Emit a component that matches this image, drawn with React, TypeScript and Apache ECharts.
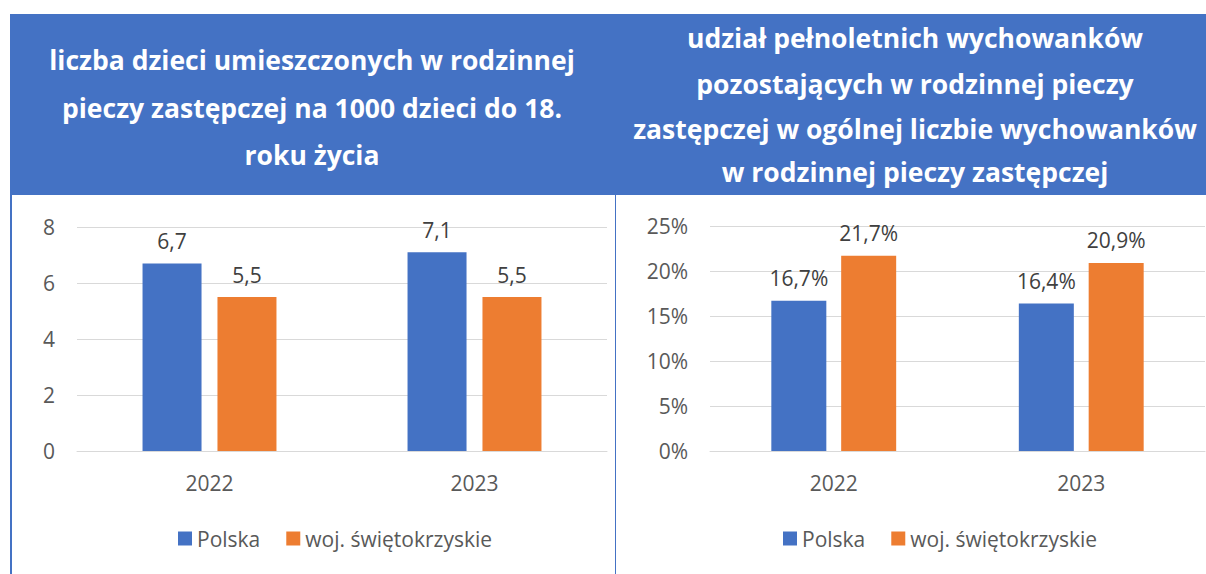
import React, { useEffect, useRef } from 'react';
import * as echarts from 'echarts';

const years = ['2022', '2023'];
const seriesNames = ['Polska', 'woj. świętokrzyskie'];
const leftPolska = [6.7, 7.1];
const leftSwiet = [5.5, 5.5];
const rightPolska = [16.7, 16.4];
const rightSwiet = [21.7, 20.9];
const leftTicks = { min: 0, max: 8, interval: 2 };
const rightTicks = { min: 0, max: 25, interval: 5 };
const leftTitle = [
  'liczba dzieci umieszczonych w rodzinnej',
  'pieczy zastępczej na 1000 dzieci do 18.',
  'roku życia',
];
const rightTitle = [
  'udział pełnoletnich wychowanków',
  'pozostających w rodzinnej pieczy',
  'zastępczej w ogólnej liczbie wychowanków',
  'w rodzinnej pieczy zastępczej',
];

const BLUE = '#4472C4';
const ORANGE = '#ED7D31';
const FONT = 'Open Sans';
const GREY = '#595959';

export default function App() {
  const ref = useRef<HTMLDivElement>(null);
  useEffect(() => {
    if (!ref.current) return;
    const chart = echarts.init(ref.current, null, { renderer: 'svg' });
    const fmtNum = (v: number) => v.toFixed(1).replace('.', ',');
    const fmtPct = (v: number) => v.toFixed(1).replace('.', ',') + '%';
    const labelStyle = (fmt: (v: number) => string) => ({
      show: true,
      position: 'top',
      distance: 12,
      color: '#404040',
      fontFamily: FONT,
      fontSize: 21,
      formatter: (p: any) => fmt(p.value),
    });
    const leftTitleY = [60, 108, 155];
    const rightTitleY = [38, 84, 129, 172];
    const titleFont = `bold 26.5px "${FONT}"`;
    const graphic: any[] = [
      { type: 'rect', shape: { x: 10, y: 14, width: 1196, height: 181 }, style: { fill: BLUE }, silent: true },
      { type: 'line', shape: { x1: 11, y1: 195, x2: 11, y2: 574 }, style: { stroke: BLUE, lineWidth: 2 } },
      { type: 'line', shape: { x1: 615.5, y1: 195, x2: 615.5, y2: 574 }, style: { stroke: BLUE, lineWidth: 1 } },
      ...leftTitle.map((t, i) => ({
        type: 'text',
        x: 312,
        y: leftTitleY[i],
        style: { text: t, fill: '#fff', font: titleFont, align: 'center', verticalAlign: 'middle' },
      })),
      ...rightTitle.map((t, i) => ({
        type: 'text',
        x: 915,
        y: rightTitleY[i],
        style: { text: t, fill: '#fff', font: titleFont, align: 'center', verticalAlign: 'middle' },
      })),
    ];
    const axisLabel = { color: GREY, fontFamily: FONT, fontSize: 21 };
    const legendBase = {
      data: seriesNames,
      top: 523,
      icon: 'rect',
      itemWidth: 14,
      itemHeight: 14,
      itemGap: 26,
      textStyle: { color: GREY, fontFamily: FONT, fontSize: 21 },
    };
    chart.setOption({
      animation: false,
      backgroundColor: '#fff',
      graphic,
      legend: [
        { ...legendBase, left: 173 },
        { ...legendBase, left: 778 },
      ],
      grid: [
        { left: 77, width: 530, top: 227, height: 224 },
        { left: 710, width: 495, top: 226, height: 225 },
      ],
      xAxis: [
        {
          type: 'category', gridIndex: 0, data: years,
          axisTick: { show: false },
          axisLine: { lineStyle: { color: '#d9d9d9' } },
          axisLabel: { ...axisLabel, margin: 21 },
        },
        {
          type: 'category', gridIndex: 1, data: years,
          axisTick: { show: false },
          axisLine: { lineStyle: { color: '#d9d9d9' } },
          axisLabel: { ...axisLabel, margin: 21 },
        },
      ],
      yAxis: [
        {
          type: 'value', gridIndex: 0, ...leftTicks,
          splitLine: { lineStyle: { color: '#d9d9d9' } },
          axisLabel: { ...axisLabel, margin: 22 },
        },
        {
          type: 'value', gridIndex: 1, ...rightTicks,
          splitLine: { lineStyle: { color: '#d9d9d9' } },
          axisLabel: { ...axisLabel, margin: 22, formatter: '{value}%' },
        },
      ],
      series: [
        { name: seriesNames[0], type: 'bar', xAxisIndex: 0, yAxisIndex: 0, data: leftPolska, itemStyle: { color: BLUE }, barWidth: 59, barGap: '27%', label: labelStyle(fmtNum) },
        { name: seriesNames[1], type: 'bar', xAxisIndex: 0, yAxisIndex: 0, data: leftSwiet, itemStyle: { color: ORANGE }, barWidth: 59, barGap: '27%', label: labelStyle(fmtNum) },
        { name: seriesNames[0], type: 'bar', xAxisIndex: 1, yAxisIndex: 1, data: rightPolska, itemStyle: { color: BLUE }, barWidth: 55, barGap: '27%', label: labelStyle(fmtPct) },
        { name: seriesNames[1], type: 'bar', xAxisIndex: 1, yAxisIndex: 1, data: rightSwiet, itemStyle: { color: ORANGE }, barWidth: 55, barGap: '27%', label: labelStyle(fmtPct) },
      ],
    });
    return () => chart.dispose();
  }, []);
  return (
    <div
      ref={ref}
      style={{ position: 'fixed', left: 0, top: 0, width: 1206, height: 574 }}
    />
  );
}
